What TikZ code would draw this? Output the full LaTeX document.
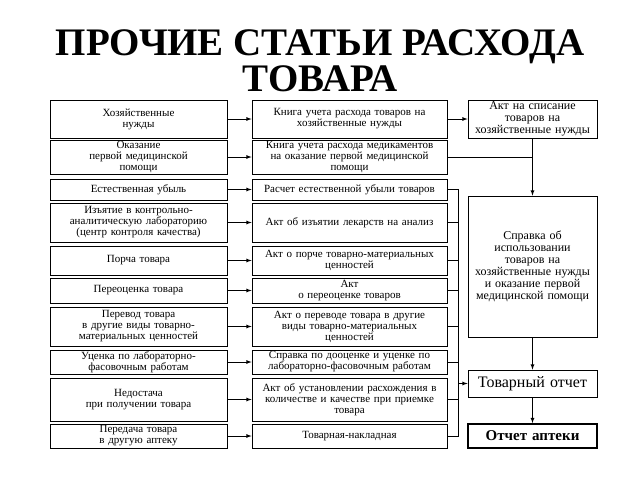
\documentclass[tikz,border=0pt]{standalone}
\usepackage{fontspec}
\setmainfont{Liberation Serif}
\usepackage{tikz}
\tikzstyle{box}=[draw,line width=0.8pt,align=center,inner sep=0.5pt,font=\fontsize{11}{11}\selectfont]
\tikzstyle{lbox}=[box,text width=175pt,minimum width=177pt]
\tikzstyle{mbox}=[box,text width=193pt,minimum width=195pt]
\tikzstyle{rbox}=[box,text width=127pt,minimum width=129pt,font=\fontsize{12}{12}\selectfont]
\tikzstyle{arr}=[->,>=latex,line width=0.8pt]
\tikzstyle{link}=[line width=0.8pt]
\begin{document}
\begin{tikzpicture}[x=1pt,y=-1pt]
      \useasboundingbox (0,0) rectangle (640,480);
      \node[font=\fontsize{39}{36}\selectfont\bfseries,align=center] (title) at (320,61) {ПРОЧИЕ СТАТЬИ РАСХОДА\\ТОВАРА};
      % left column
      \node[lbox,minimum height=38pt] (l1) at (138.5,119) {Хозяйственные\\нужды};
      \node[lbox,minimum height=34pt] (l2) at (138.5,157) {Оказание\\первой медицинской\\помощи};
      \node[lbox,minimum height=21pt] (l3) at (138.5,189.5) {Естественная убыль};
      \node[lbox,minimum height=39pt] (l4) at (138.5,222.5) {Изъятие в контрольно-\\аналитическую лабораторию\\(центр контроля качества)};
      \node[lbox,minimum height=29pt] (l5) at (138.5,260.5) {Порча товара};
      \node[lbox,minimum height=25pt] (l6) at (138.5,290.5) {Переоценка товара};
      \node[lbox,minimum height=39pt] (l7) at (138.5,326.5) {Перевод товара\\в другие виды товарно-\\материальных ценностей};
      \node[lbox,minimum height=24pt] (l8) at (138.5,362) {Уценка по лабораторно-\\фасовочным работам};
      \node[lbox,minimum height=43pt] (l9) at (138.5,399.5) {Недостача\\при получении товара};
      \node[lbox,minimum height=24pt] (l10) at (138.5,436) {Передача товара\\в другую аптеку};
      % middle column
      \node[mbox,minimum height=38pt] (m1) at (349.5,119) {Книга учета расхода товаров на\\хозяйственные нужды};
      \node[mbox,minimum height=34pt] (m2) at (349.5,157) {Книга учета расхода медикаментов\\на оказание первой медицинской\\помощи};
      \node[mbox,minimum height=21pt] (m3) at (349.5,189.5) {Расчет естественной убыли товаров};
      \node[mbox,minimum height=39pt] (m4) at (349.5,222.5) {Акт об изъятии лекарств на анализ};
      \node[mbox,minimum height=29pt] (m5) at (349.5,260.5) {Акт о порче товарно-материальных\\ценностей};
      \node[mbox,minimum height=25pt] (m6) at (349.5,290.5) {Акт\\о переоценке товаров};
      \node[mbox,minimum height=39pt] (m7) at (349.5,326.5) {Акт о переводе товара в другие\\виды товарно-материальных\\ценностей};
      \node[mbox,minimum height=24pt] (m8) at (349.5,362) {Справка по дооценке и уценке по\\лабораторно-фасовочным работам};
      \node[mbox,minimum height=43pt] (m9) at (349.5,399.5) {Акт об установлении расхождения в\\количестве и качестве при приемке\\товара};
      \node[mbox,minimum height=24pt] (m10) at (349.5,436) {Товарная-накладная};
      % right column
      \node[rbox,minimum height=38pt] (r1) at (532.5,119) {Акт на списание\\товаров на\\хозяйственные нужды};
      \node[rbox,minimum height=141pt] (r2) at (532.5,266.5) {Справка об\\использовании\\товаров на\\хозяйственные нужды\\и оказание первой\\медицинской помощи};
      \node[rbox,minimum height=27pt,font=\fontsize{16}{16}\selectfont] (r3) at (532.5,383.5) {Товарный отчет};
      \node[rbox,minimum height=24pt,line width=1.8pt,font=\fontsize{15}{16}\selectfont\bfseries] (r4) at (532.5,436) {Отчет аптеки};
      \coordinate (bus) at (458,0);
      \draw[arr] (l1) -- (m1);
      \draw[arr] (l2) -- (m2);
      \draw[arr] (l3) -- (m3);
      \draw[arr] (l4) -- (m4);
      \draw[arr] (l5) -- (m5);
      \draw[arr] (l6) -- (m6);
      \draw[arr] (l7) -- (m7);
      \draw[arr] (l8) -- (m8);
      \draw[arr] (l9) -- (m9);
      \draw[arr] (l10) -- (m10);
      \draw[arr] (m1) -- (r1);
      \draw[link] (m2.east) -- (m2.east -| r1.south);
      \draw[arr] (r1) -- (r2);
      \draw[link] (m3.east) -- (m3.east -| bus) -- (m10.east -| bus) -- (m10.east);
      \draw[link] (m4.east) -- (m4.east -| bus);
      \draw[link] (m5.east) -- (m5.east -| bus);
      \draw[link] (m6.east) -- (m6.east -| bus);
      \draw[link] (m7.east) -- (m7.east -| bus);
      \draw[link] (m8.east) -- (m8.east -| bus);
      \draw[link] (m9.east) -- (m9.east -| bus);
      \draw[arr] (r3.west -| bus) -- (r3);
      \draw[arr] (r2) -- (r3);
      \draw[arr] (r3) -- (r4);
    \end{tikzpicture}
\end{document}
